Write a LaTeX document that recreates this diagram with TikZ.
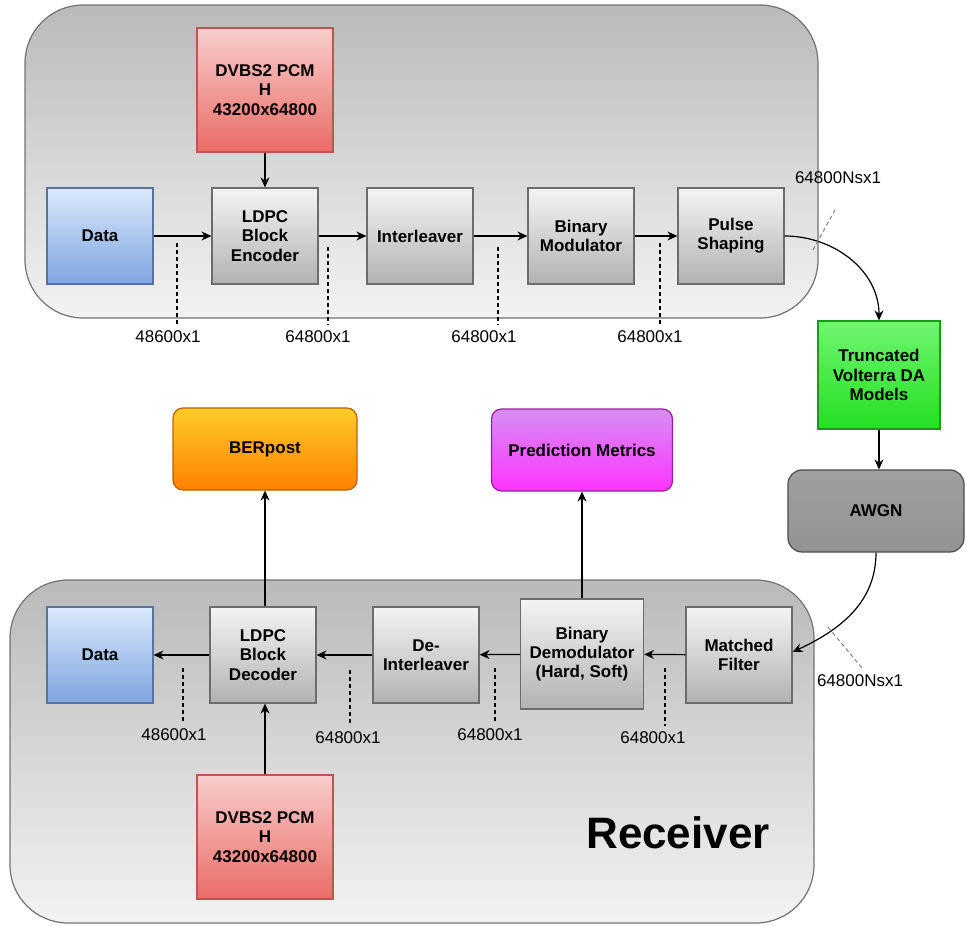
\documentclass[tikz,border=0pt]{standalone}
\usepackage{fontspec}
\setmainfont{Liberation Sans}
\usepackage{xcolor}
\usepackage{tikz}
\usetikzlibrary{arrows.meta, positioning, calc}

\definecolor{frameTop}{HTML}{BABABA}
\definecolor{frameBot}{HTML}{F3F3F3}
\definecolor{blkTop}{HTML}{F4F4F4}
\definecolor{blkBot}{HTML}{B2B2B2}
\definecolor{blueTop}{HTML}{DAE8FC}
\definecolor{blueBot}{HTML}{7EA6E0}
\definecolor{redTop}{HTML}{F8CECC}
\definecolor{redBot}{HTML}{EA6B66}
\definecolor{greenTop}{HTML}{70F570}
\definecolor{greenBot}{HTML}{22E022}
\definecolor{orangeTop}{HTML}{FFCD28}
\definecolor{orangeBot}{HTML}{FF8000}
\definecolor{violetTop}{HTML}{D68EF5}
\definecolor{violetBot}{HTML}{FF33FF}

\tikzset{
  frame/.style={draw=gray!90!black, line width=0.6pt, top color=frameTop, bottom color=frameBot, rounded corners=29pt},
  blk/.style={draw=gray!85!black, line width=0.6pt, top color=blkTop, bottom color=blkBot,
    minimum width=53pt, minimum height=48pt, inner sep=0pt, align=center,
    font=\fontsize{8.5}{9.6}\selectfont\bfseries},
  datablk/.style={blk, draw=blueBot!70!black, top color=blueTop, bottom color=blueBot},
  pcmblk/.style={blk, draw=redBot!80!black, top color=redTop, bottom color=redBot, minimum width=68pt, minimum height=62pt},
  outblk/.style={blk, rounded corners=5pt, minimum width=91pt, minimum height=41pt},
  lbl/.style={font=\fontsize{8.5}{10}\selectfont, inner sep=1pt},
  tick/.style={line width=0.6pt, dash pattern=on 2pt off 1.5pt},
  slant/.style={gray, line width=0.5pt, dash pattern=on 2pt off 1.5pt},
  link/.style={line width=0.6pt, -{Stealth[length=5pt,width=4.5pt]}}
}

\begin{document}
\begin{tikzpicture}[x=0.5pt,y=-0.5pt]
  \useasboundingbox (0,0) rectangle (966,926);

  % transmitter and receiver frames
  \path[frame] (25,5) rectangle (818,318);
  \path[frame] (10,580) rectangle (814,923);

  % transmitter chain
  \node[datablk] (data) at (100,236) {Data};
  \node[blk] (enc) at (265,236) {LDPC\\Block\\Encoder};
  \node[blk] (ilv) at (420,236) {Interleaver};
  \node[blk] (bmod) at (581,236) {Binary\\Modulator};
  \node[blk] (pulse) at (731,236) {Pulse\\Shaping};
  \node[pcmblk] (pcmtx) at (265,90) {DVBS2 PCM\\H\\43200x64800};

  \draw[link] (data) -- (enc);
  \draw[link] (enc) -- (ilv);
  \draw[link] (ilv) -- (bmod);
  \draw[link] (bmod) -- (pulse);
  \draw[link] (pcmtx) -- (enc);

  \draw[tick] (177,243) -- (177,325);
  \draw[tick] (328,247) -- (328,325);
  \draw[tick] (498,247) -- (498,325);
  \draw[tick] (660,243) -- (660,325);
  \node[lbl] (s1) at (168,337) {48600x1};
  \node[lbl] (s2) at (318,337) {64800x1};
  \node[lbl] (s3) at (484,337) {64800x1};
  \node[lbl] (s4) at (650,337) {64800x1};

  % channel
  \node[blk, draw=greenBot!70!black, top color=greenTop, bottom color=greenBot,
    minimum width=61pt, minimum height=54pt] (dam) at (879,375) {Truncated\\Volterra DA\\Models};
  \node[blk, rounded corners=7pt, draw=black!70, top color=gray!75, bottom color=gray!85,
    minimum width=88pt, minimum height=41pt] (awgn) at (876,511) {AWGN};

  \draw[link] (pulse.east) to[out=0, in=90] (dam.north);
  \draw[link] (dam.south) -- (dam.south |- awgn.north);
  \draw[slant] (813,250) -- (835,210);
  \node[lbl] (ns1) at (838,178) {64800Nsx1};

  % receiver chain
  \node[blk] (mf) at (739,655) {Matched\\Filter};
  \node[blk, minimum width=61.5pt, minimum height=55pt] (bdem) at (582,654) {Binary\\Demodulator\\(Hard, Soft)};
  \node[blk] (deilv) at (426,655) {De-\\Interleaver};
  \node[blk] (dec) at (263,655) {LDPC\\Block\\Decoder};
  \node[datablk] (datarx) at (100,655) {Data};
  \node[pcmblk] (pcmrx) at (265,837) {DVBS2 PCM\\H\\43200x64800};

  \node[outblk, draw=orangeBot!75!black, top color=orangeTop, bottom color=orangeBot,
    minimum width=92pt] (ber) at (265,449) {BERpost};
  \node[outblk, draw=violetBot!60!black, top color=violetTop, bottom color=violetBot,
    minimum width=90.5pt] (pm) at (582,450) {Prediction Metrics};

  \draw[link] (awgn.south) to[out=-90, in=25] ($(mf.east)+(0,-3)$);
  \draw[link] (mf) -- (bdem);
  \draw[link] (bdem) -- (deilv);
  \draw[link] (deilv) -- (dec);
  \draw[link] (dec) -- (datarx);
  \draw[link] (pcmrx.north) -- (pcmrx.north |- dec.south);
  \draw[link] (pcmrx.north |- dec.north) -- (pcmrx.north |- ber.south);
  \draw[link] (bdem) -- (pm);

  \draw[slant] (828,627) -- (862,668);
  \node[lbl] (ns2) at (860,681) {64800Nsx1};

  \draw[tick] (183,668) -- (183,721);
  \draw[tick] (350,670) -- (350,726);
  \draw[tick] (495,668) -- (495,723);
  \draw[tick] (665,668) -- (665,726);
  \node[lbl] (r1) at (174,735) {48600x1};
  \node[lbl] (r2) at (348,738) {64800x1};
  \node[lbl] (r3) at (490,735) {64800x1};
  \node[lbl] (r4) at (653,738) {64800x1};

  \node[font=\fontsize{22}{24}\selectfont\bfseries] (rx) at (678,833) {Receiver};
\end{tikzpicture}
\end{document}
